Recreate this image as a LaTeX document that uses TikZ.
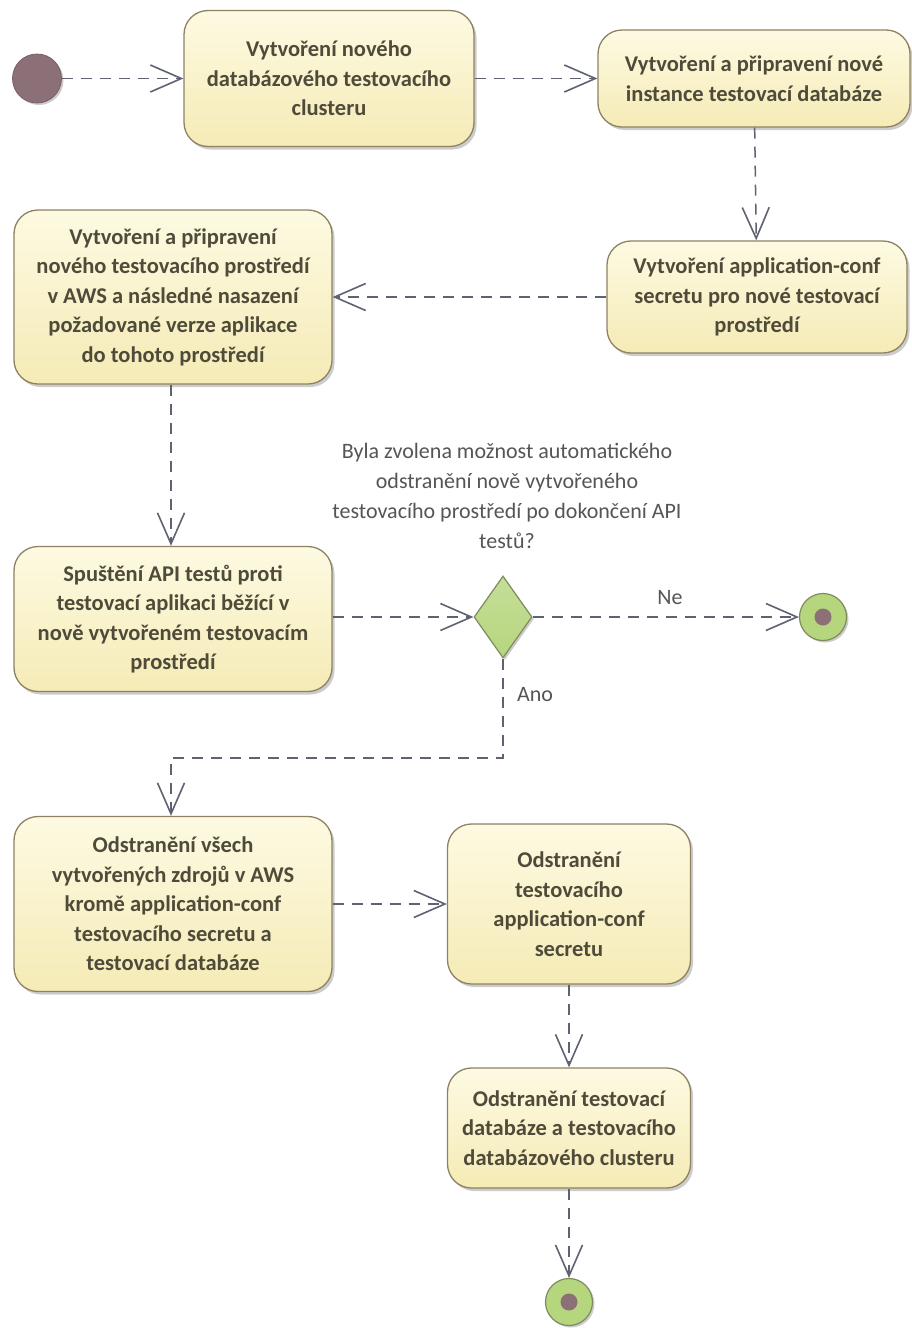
\documentclass[tikz,border=0pt]{standalone}
\usepackage{fontspec}
\setmainfont{Carlito}
\usetikzlibrary{arrows.meta,shapes.geometric,shadows}

\definecolor{boxtop}{HTML}{FDFAE2}
\definecolor{boxbot}{HTML}{F5EBB6}
\definecolor{boxline}{HTML}{8E8262}
\definecolor{boxtext}{HTML}{4F4B3A}
\definecolor{flowline}{HTML}{5E6272}
\definecolor{greenfill}{HTML}{B6D67E}
\definecolor{greenline}{HTML}{7F8B5E}
\definecolor{mauve}{HTML}{8C7078}
\definecolor{labeltext}{HTML}{555555}

\tikzset{
  actbox/.style={draw=boxline, line width=1.3pt, rounded corners=24pt,
    top color=boxtop, bottom color=boxbot, align=center,
    font=\bfseries\fontsize{22.5}{29.5}\selectfont, text=boxtext,
    drop shadow={shadow xshift=2.5pt, shadow yshift=-3pt, fill=black, opacity=0.2},
    inner sep=0pt},
  startdot/.style={circle, fill=mauve, draw=mauve!85!black, line width=0.8pt,
    minimum size=49pt, inner sep=0pt,
    drop shadow={shadow xshift=2pt, shadow yshift=-2pt, fill=black, opacity=0.2}},
  enddot/.style={circle, fill=greenfill, draw=greenline, line width=1.2pt,
    minimum size=47pt, inner sep=0pt,
    drop shadow={shadow xshift=2pt, shadow yshift=-2pt, fill=black, opacity=0.2}},
  enddotcore/.style={circle, fill=mauve, minimum size=17pt, inner sep=0pt},
  decision/.style={diamond, aspect=0.7, top color=greenfill!80!white, bottom color=greenfill,
    draw=greenline, line width=1.2pt, minimum width=58pt, minimum height=82pt, inner sep=0pt,
    drop shadow={shadow xshift=2pt, shadow yshift=-2pt, fill=black, opacity=0.2}},
  flow/.style={draw=flowline, line width=1.5pt, dash pattern=on 11pt off 8pt,
    -{Straight Barb[length=31pt, width=27pt, line width=1.6pt]}},
  lbl/.style={font=\fontsize{22}{30}\selectfont, text=labeltext, align=center, inner sep=0pt}
}

\begin{document}
\begin{tikzpicture}[x=1pt, y=-1pt]
\useasboundingbox[fill=white] (0,0) rectangle (912,1328);

% actions
\node[startdot] (start) at (37,78.5) {};
\node[actbox, minimum width=290pt, minimum height=136pt] (b1) at (329,78.5)
  {Vytvoření nového\\databázového testovacího\\clusteru};
\node[actbox, minimum width=312pt, minimum height=97pt] (b2) at (754,78.5)
  {Vytvoření a připravení nové\\instance testovací databáze};
\node[actbox, minimum width=300pt, minimum height=112pt] (b3) at (757,297)
  {Vytvoření application-conf\\secretu pro nové testovací\\prostředí};
\node[actbox, minimum width=318pt, minimum height=174pt] (b4) at (173,297)
  {Vytvoření a připravení\\nového testovacího prostředí\\v AWS a následné nasazení\\požadované verze aplikace\\do tohoto prostředí};
\node[actbox, minimum width=318pt, minimum height=145pt] (b5) at (173,619)
  {Spuštění API testů proti\\testovací aplikaci běžící v\\nově vytvořeném testovacím\\prostředí};
\node[decision] (dec) at (503,617) {};
\node[enddot] (endA) at (823,617) {};
\node[enddotcore] at (endA) {};
\node[actbox, minimum width=318pt, minimum height=175pt] (b6) at (173,904)
  {Odstranění všech\\vytvořených zdrojů v AWS\\kromě application-conf\\testovacího secretu a\\testovací databáze};
\node[actbox, minimum width=243pt, minimum height=160pt] (b7) at (569,904)
  {Odstranění\\testovacího\\application-conf\\secretu};
\node[actbox, minimum width=243pt, minimum height=120pt] (b8) at (569,1128)
  {Odstranění testovací\\databáze a testovacího\\databázového clusteru};
\node[enddot] (endB) at (569,1302) {};
\node[enddotcore] at (endB) {};

% labels
\node[lbl] (question) at (507,496)
  {Byla zvolena možnost automatického\\odstranění nově vytvořeného\\testovacího prostředí po dokončení API\\testů?};
\node[lbl] (ne) at (670,598) {Ne};
\node[lbl] (ano) at (535,695) {Ano};

% control flow
\coordinate (bend) at (171,758);
\draw[flow] (start) -- (b1);
\draw[flow] (b1) -- (b2);
\draw[flow] (b2) -- (b3);
\draw[flow] (b3.west) -- (b4.east |- b3.west);
\draw[flow] (b4.south -| bend) -- (b5.north -| bend);
\draw[flow] (b5.east |- dec.west) -- (dec.west);
\draw[flow] (dec.east) -- (endA);
\draw[flow] (dec.south) -- (dec.south |- bend) -- (bend) -- (bend |- b6.north);
\draw[flow] (b6.east |- b7.west) -- (b7.west);
\draw[flow] (b7) -- (b8);
\draw[flow] (b8) -- (endB);
\end{tikzpicture}
\end{document}
